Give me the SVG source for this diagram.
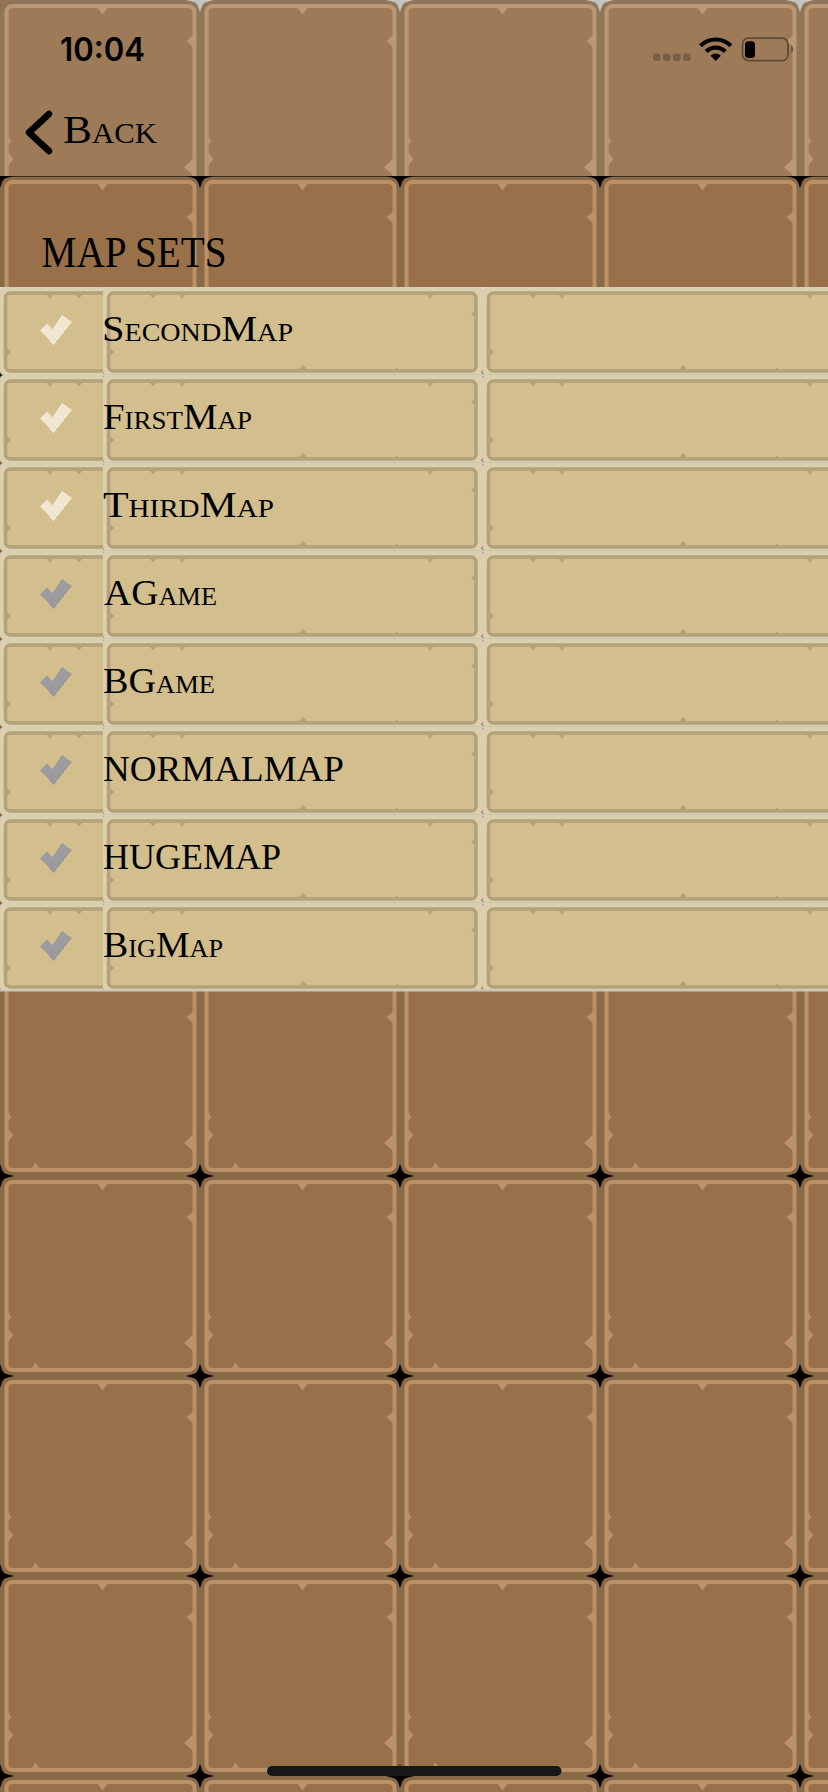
<svg xmlns="http://www.w3.org/2000/svg" xmlns:xlink="http://www.w3.org/1999/xlink" width="828" height="1792" viewBox="0 0 828 1792">
<style>
.sc{font-family:"Liberation Serif",serif;font-variant:small-caps;fill:#000}
.row{font-size:36px}
.on{fill:#EFE7D2}.off{fill:#9C9C9F}
.tline{fill:#BA9169}
.rline{fill:#B3A27A}
.sep{fill:#CAC5BB}
</style>
<defs>
<filter id="soft" x="-5%" y="-5%" width="110%" height="110%"><feGaussianBlur stdDeviation="0.65"/></filter>
<path id="star" d="M0-12 2.500-5 5-2.500 14 0 5 2.500 2.500 5 0 12-2.500 5-5 2.500-14 0-5-2.500-2.500-5Z"/>
<g id="tile">
<rect width="200" height="200" fill="#8A6947"/>
<g filter="url(#soft)">
<rect x="6.500" y="6" width="188" height="188" rx="6" fill="#98704A" stroke="#BA9169" stroke-width="4"/>
<path class="tline" d="M96 6H109L102.500 14.500Z"/>
<path class="tline" d="M195 34 186.500 41 195 48.500Z"/>
<path class="tline" d="M7 135 11.500 141 7 147Z"/>
<path class="tline" d="M7 152 13.500 159 7 167Z"/>
<path class="tline" d="M195 157 184 167 195 177Z"/>
<path class="tline" d="M31 194 35.500 186.500 40 194Z"/>
</g>
</g>
<pattern id="bg" patternUnits="userSpaceOnUse" width="200" height="200" patternTransform="translate(0 176)">
<use href="#tile"/>
<use href="#star"/><use href="#star" x="200"/><use href="#star" y="200"/><use href="#star" x="200" y="200"/>
</pattern>
<pattern id="bgNav" patternUnits="userSpaceOnUse" width="200" height="200">
<use href="#tile"/>
</pattern>
<g id="cellTile">
<rect width="380" height="88" rx="4" fill="#DBD0AE"/>
<g filter="url(#soft)">
<rect x="5.500" y="6" width="367.500" height="78" rx="5" fill="#D3BE8E" stroke="#B3A27A" stroke-width="3.600"/>
<path class="rline" d="M45 6H55L50 11.500Z"/>
<path class="rline" d="M74 6H84L79 11.500Z"/>
<path class="rline" d="M322 6H332L327 11.500Z"/>
<path class="rline" d="M373 23 368 27 373 31Z"/>
<path class="rline" d="M6 60 11 65 6 70Z"/>
<path class="rline" d="M194 84 200 78 206 84Z"/>
<path class="rline" d="M291 84 294 80.500 297 84Z"/>
<path class="rline" d="M377 86 379.500 82.500 382 86Z"/>
</g>
</g>
<pattern id="cellA" patternUnits="userSpaceOnUse" width="380" height="88" patternTransform="translate(0 287)"><use href="#cellTile"/></pattern>
<pattern id="cellB" patternUnits="userSpaceOnUse" width="380" height="88" patternTransform="translate(103 287)"><use href="#cellTile"/></pattern>
<path id="check" d="M40 330 47 324 52.500 329.500 62 315 72 322 53.500 345Z"/>
</defs>

<g id="background"><rect width="828" height="1792" fill="url(#bg)"/></g>

<g id="nav-bar">
<rect width="828" height="176" fill="url(#bgNav)"/>
<rect width="828" height="176" fill="#C2CCCF" fill-opacity="0.12"/>
<g fill="#C4C3BF"><use href="#star" x="200"/><use href="#star" x="400"/><use href="#star" x="600"/><use href="#star" x="800"/></g>
<rect y="176" width="828" height="1" fill="#000" fill-opacity="0.55"/>
</g>

<g id="status-time"><text x="60" y="61" font-family="Inter,sans-serif" font-weight="600" font-size="32" textLength="85" lengthAdjust="spacingAndGlyphs">10:04</text></g>
<g id="status-signal" fill="#7A5F45">
<rect x="653" y="53.500" width="7.500" height="7.500" rx="2.500"/><rect x="663" y="53.500" width="7.500" height="7.500" rx="2.500"/><rect x="673" y="53.500" width="7.500" height="7.500" rx="2.500"/><rect x="683" y="53.500" width="7.500" height="7.500" rx="2.500"/>
</g>
<g id="status-wifi">
<path d="M700.500 45.800A21.500 21.500 0 0 1 730.900 45.800" fill="none" stroke="#000" stroke-width="4.200"/>
<path d="M706.200 51.500A13.500 13.500 0 0 1 725.200 51.500" fill="none" stroke="#000" stroke-width="4.200"/>
<path d="M715.700 61 710.500 55.700A7.400 7.400 0 0 1 720.900 55.700Z"/>
</g>
<g id="status-battery">
<rect x="742.500" y="38.200" width="45.500" height="22.500" rx="6" fill="none" stroke="#5F4A35" stroke-width="1.800"/>
<rect x="745" y="41.300" width="10" height="16.800" rx="3.500"/>
<path d="M791 45.500C794 46.500 794 52 791 53Z" fill="#6B5A46"/>
</g>
<g id="back-button">
<path d="M49 114 29 132.500 49 151" fill="none" stroke="#000" stroke-width="6.500" stroke-linecap="round" stroke-linejoin="round"/>
<text class="sc" x="63" y="143" font-size="41" textLength="94" lengthAdjust="spacingAndGlyphs">Back</text>
</g>
<g id="section-title"><text x="41.500" y="267" font-family="'Liberation Serif',serif" font-size="44" textLength="185" lengthAdjust="spacingAndGlyphs">MAP SETS</text></g>

<g id="table">
<rect y="287" width="828" height="3" fill="#E4DDC8"/>
<g id="row-1"><rect y="287" width="103" height="88" fill="url(#cellA)"/><rect x="103" y="287" width="725" height="88" fill="url(#cellB)"/><rect x="103" y="374" width="725" height="2.500" class="sep"/><use href="#check" class="on" style="shape-rendering:crispEdges"/><text class="sc row" x="102" y="341" textLength="191" lengthAdjust="spacingAndGlyphs">SecondMap</text></g>
<g id="row-2"><rect y="375" width="103" height="88" fill="url(#cellA)"/><rect x="103" y="375" width="725" height="88" fill="url(#cellB)"/><rect x="103" y="462" width="725" height="2.500" class="sep"/><use href="#check" y="88" class="on" style="shape-rendering:crispEdges"/><text class="sc row" x="103" y="429" textLength="149" lengthAdjust="spacingAndGlyphs">FirstMap</text></g>
<g id="row-3"><rect y="463" width="103" height="88" fill="url(#cellA)"/><rect x="103" y="463" width="725" height="88" fill="url(#cellB)"/><rect x="103" y="550" width="725" height="2.500" class="sep"/><use href="#check" y="176" class="on" style="shape-rendering:crispEdges"/><text class="sc row" x="103" y="517" textLength="171" lengthAdjust="spacingAndGlyphs">ThirdMap</text></g>
<g id="row-4"><rect y="551" width="103" height="88" fill="url(#cellA)"/><rect x="103" y="551" width="725" height="88" fill="url(#cellB)"/><rect x="103" y="638" width="725" height="2.500" class="sep"/><use href="#check" y="264" class="off" style="shape-rendering:crispEdges"/><text class="sc row" x="104" y="605" textLength="113" lengthAdjust="spacingAndGlyphs">AGame</text></g>
<g id="row-5"><rect y="639" width="103" height="88" fill="url(#cellA)"/><rect x="103" y="639" width="725" height="88" fill="url(#cellB)"/><rect x="103" y="726" width="725" height="2.500" class="sep"/><use href="#check" y="352" class="off" style="shape-rendering:crispEdges"/><text class="sc row" x="103" y="693" textLength="112" lengthAdjust="spacingAndGlyphs">BGame</text></g>
<g id="row-6"><rect y="727" width="103" height="88" fill="url(#cellA)"/><rect x="103" y="727" width="725" height="88" fill="url(#cellB)"/><rect x="103" y="814" width="725" height="2.500" class="sep"/><use href="#check" y="440" class="off" style="shape-rendering:crispEdges"/><text class="sc row" x="103" y="781" textLength="241" lengthAdjust="spacingAndGlyphs">NORMALMAP</text></g>
<g id="row-7"><rect y="815" width="103" height="88" fill="url(#cellA)"/><rect x="103" y="815" width="725" height="88" fill="url(#cellB)"/><rect x="103" y="902" width="725" height="2.500" class="sep"/><use href="#check" y="528" class="off" style="shape-rendering:crispEdges"/><text class="sc row" x="103" y="869" textLength="178" lengthAdjust="spacingAndGlyphs">HUGEMAP</text></g>
<g id="row-8"><rect y="903" width="103" height="88" fill="url(#cellA)"/><rect x="103" y="903" width="725" height="88" fill="url(#cellB)"/><use href="#check" y="616" class="off" style="shape-rendering:crispEdges"/><text class="sc row" x="103" y="957" textLength="120" lengthAdjust="spacingAndGlyphs">BigMap</text></g>
<rect y="989.500" width="828" height="2" class="sep"/>
</g>

<g id="home-indicator"><rect x="267" y="1766" width="294.500" height="10" rx="5" fill="#17171A"/></g>
</svg>
